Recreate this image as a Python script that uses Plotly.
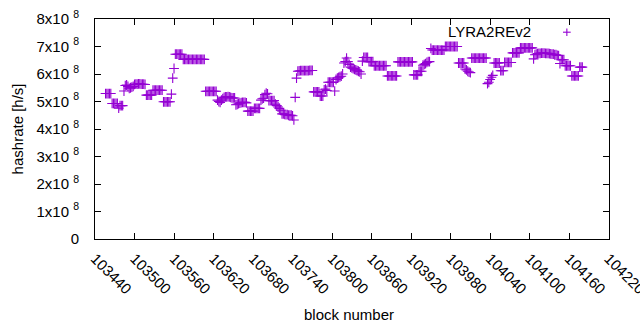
import plotly.graph_objects as go

# ---- data ----
first_block = 103456
block_step = 2
# hashrate in units of 1e8 h/s, one value per sampled block
hashrate_e8 = [
    5.29, 5.29, 5.29, 5.29, 5.29,
    4.93, 4.93, 4.93, 4.93, 4.93,
    4.76, 4.85, 4.85, 4.85,
    5.38,
    5.58, 5.60, 5.55, 5.48, 5.50, 5.52, 5.55,
    5.62, 5.63, 5.63, 5.64, 5.64, 5.63, 5.63, 5.63, 5.62,
    5.23, 5.23, 5.23, 5.23, 5.23,
    5.41, 5.41, 5.41, 5.41, 5.41, 5.41, 5.41, 5.41,
    4.99, 4.99, 4.99, 4.99, 4.99, 4.99,
    5.27, 5.85, 6.20,
    6.72, 6.72, 6.72, 6.72, 6.72, 6.72,
    6.53, 6.53, 6.53, 6.53, 6.53, 6.53, 6.53, 6.53, 6.53, 6.53, 6.53, 6.53, 6.53, 6.53, 6.53, 6.53, 6.53,
    5.37, 5.37, 5.37, 5.37, 5.37, 5.37, 5.37, 5.37, 5.37,
    5.05, 5.00, 4.97, 5.05, 5.10, 5.15, 5.17, 5.17, 5.18, 5.17, 5.15, 5.13, 5.13, 5.13,
    4.88, 4.90, 4.92, 4.94, 4.96, 4.97, 4.97, 4.97, 4.95,
    4.65, 4.65, 4.65, 4.65, 4.65, 4.75, 4.75, 4.75, 4.75, 4.75,
    5.05, 5.10, 5.12, 5.25, 5.30, 5.28,
    5.03, 5.03, 5.03, 5.03, 5.03,
    4.90, 4.85, 4.80, 4.75, 4.68,
    4.55, 4.55, 4.53, 4.52, 4.52, 4.50, 4.50, 4.50, 4.48,
    4.33, 5.15, 5.85,
    6.10, 6.11, 6.12, 6.12, 6.12, 6.12, 6.12, 6.12, 6.12, 6.13, 6.13, 6.13,
    5.35, 5.35, 5.35, 5.35, 5.35,
    5.20, 5.20, 5.20, 5.42, 5.45, 5.40,
    5.70, 5.70, 5.70, 5.70, 5.70,
    5.38,
    5.80, 5.85, 5.88, 5.90, 5.92,
    6.00,
    6.40, 6.45, 6.58, 6.45, 6.35,
    6.25, 6.22, 6.20, 6.17, 6.15, 6.12, 6.10, 6.08, 6.00,
    6.47,
    6.60, 6.60, 6.60, 6.60,
    6.45, 6.45, 6.45, 6.45,
    6.30, 6.30, 6.30, 6.30, 6.30, 6.30, 6.30, 6.30, 6.30, 6.30,
    5.93, 5.93, 5.93, 5.93, 5.93, 5.93, 5.93, 5.93,
    6.44, 6.44, 6.44, 6.44, 6.44, 6.44, 6.44, 6.44, 6.44, 6.44, 6.44, 6.44,
    5.97, 5.97, 5.97, 5.97,
    6.10, 6.10, 6.10,
    6.32, 6.35, 6.38, 6.42, 6.45, 6.45,
    6.93,
    6.87, 6.87, 6.87, 6.87, 6.87, 6.87, 6.87, 6.87, 6.87, 6.87,
    7.00, 7.00, 7.00, 7.00, 7.00, 7.00, 7.00, 7.00, 7.00, 7.00,
    6.40, 6.40, 6.40, 6.40, 6.40,
    6.18, 6.15, 6.10, 6.07, 6.05,
    6.58, 6.58, 6.58, 6.58, 6.58, 6.58, 6.58, 6.58, 6.58, 6.58, 6.58, 6.58,
    5.65, 5.70, 5.80, 5.88, 5.95,
    6.40, 6.40, 6.40, 6.40, 6.40,
    6.12, 6.12, 6.12,
    6.42, 6.42, 6.42, 6.42, 6.42, 6.42,
    6.77, 6.77, 6.77, 6.77, 6.77, 6.77,
    6.95, 6.95, 6.95, 6.95, 6.95, 6.95, 6.95, 6.95, 6.95, 6.95,
    6.55,
    6.70, 6.72, 6.74, 6.75, 6.75, 6.76, 6.76, 6.76, 6.75, 6.75, 6.75, 6.74, 6.73, 6.72, 6.72, 6.70, 6.70, 6.68, 6.67,
    6.38,
    6.52, 6.52, 6.52,
    6.30, 6.30, 6.30, 6.30, 6.30,
    5.93, 5.93, 5.93, 5.93, 5.93, 5.93,
    6.25, 6.25, 6.25,
]
blocks = [first_block + block_step * i for i in range(len(hashrate_e8))]

x_ticks = [103440, 103500, 103560, 103620, 103680, 103740, 103800, 103860,
           103920, 103980, 104040, 104100, 104160, 104220]
y_ticks = [0, 1, 2, 3, 4, 5, 6, 7, 8]
y_ticktext = ["0"] + [f"{v}x10 <sup>8</sup>" for v in y_ticks[1:]]
series_name = "LYRA2REv2"

COLOR = "#9400d3"
FONT = "Liberation Sans, Arial, sans-serif"

fig = go.Figure()
fig.add_trace(go.Scatter(
    x=blocks, y=hashrate_e8, mode="markers", name=series_name,
    marker=dict(symbol="cross-thin", size=7, color=COLOR,
                line=dict(width=1.1, color=COLOR)),
    showlegend=False,
))

# legend (gnuplot style: text then sample)
fig.add_annotation(xref="paper", yref="paper", x=0.853, y=0.945,
                   text=series_name, showarrow=False, xanchor="right",
                   yanchor="middle", font=dict(size=15, color="black", family=FONT))
lx, ly = 0.918, 0.94
fig.add_shape(type="line", xref="paper", yref="paper",
              x0=lx - 0.0075, x1=lx + 0.0075, y0=ly, y1=ly,
              line=dict(color=COLOR, width=1.1))
fig.add_shape(type="line", xref="paper", yref="paper",
              x0=lx, x1=lx, y0=ly - 0.017, y1=ly + 0.017,
              line=dict(color=COLOR, width=1.1))

# axis titles as annotations (fixed positions)
fig.add_annotation(xref="paper", yref="paper", x=0.494, y=-0.345,
                   text="block number", showarrow=False, xanchor="center",
                   yanchor="middle", font=dict(size=15, color="black", family=FONT))
fig.add_annotation(xref="paper", yref="paper", x=-0.151, y=0.5,
                   text="hashrate [h/s]", showarrow=False, textangle=-90,
                   xanchor="center", yanchor="middle",
                   font=dict(size=15, color="black", family=FONT))

fig.update_layout(
    width=640, height=330,
    margin=dict(l=95, r=31, t=19, b=91),
    paper_bgcolor="white", plot_bgcolor="white",
    font=dict(family=FONT, size=15, color="black"),
)
fig.update_xaxes(
    range=[103440, 104220.5], tickvals=x_ticks, ticktext=[str(t) for t in x_ticks],
    tickangle=45, ticks="inside", ticklen=6, tickcolor="black",
    showline=True, linecolor="black", linewidth=1, mirror="ticks",
    showgrid=False, zeroline=False, automargin=False,
    tickfont=dict(size=15), ticklabelstandoff=4, ticklabeloverflow="allow",
)
fig.update_yaxes(
    range=[0, 8], tickvals=y_ticks, ticktext=y_ticktext,
    ticks="inside", ticklen=6, tickcolor="black",
    showline=True, linecolor="black", linewidth=1, mirror="ticks",
    showgrid=False, zeroline=False, automargin=False,
    tickfont=dict(size=15), ticklabelstandoff=12,
)

fig.write_html("out.html", config={"displayModeBar": False},
               post_script="document.body.style.margin='0';")
